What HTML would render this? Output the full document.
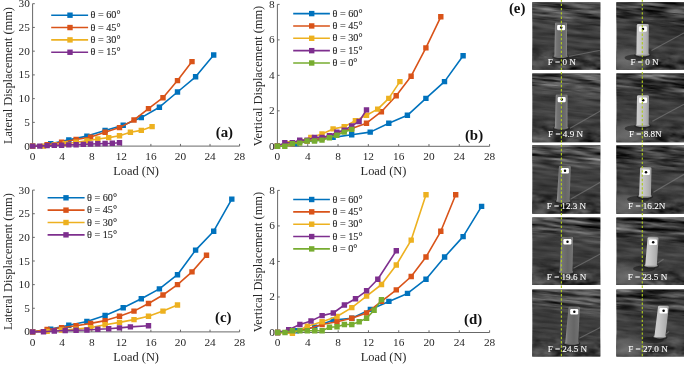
<!DOCTYPE html>
<html><head><meta charset="utf-8"><title>Figure</title>
<style>
html,body{margin:0;padding:0;background:#fff}
svg{display:block;will-change:transform}
text{font-family:"Liberation Serif",serif;fill:#262626}
.t{font-size:11.3px}
.l{font-size:12.4px}
.g{font-size:10.2px;stroke:#262626;stroke-width:0.12px}
.b{font-size:14.9px;font-weight:bold;fill:#111}
.f{font-size:9.1px;fill:#fff;stroke:#fff;stroke-width:0.1px}
</style></head><body>
<svg width="685" height="365" viewBox="0 0 685 365">
<defs>
<linearGradient id="bg0" x1="0" y1="0" x2="0" y2="1">
<stop offset="0" stop-color="#404040"/><stop offset="0.15" stop-color="#464646"/><stop offset="0.3" stop-color="#404040"/><stop offset="0.55" stop-color="#3e3e3e"/><stop offset="0.78" stop-color="#3a3a3a"/><stop offset="1" stop-color="#353535"/>
</linearGradient>
<linearGradient id="bg1" x1="0" y1="0" x2="0" y2="1">
<stop offset="0" stop-color="#2c2c2c"/><stop offset="0.14" stop-color="#363636"/><stop offset="0.26" stop-color="#262626"/><stop offset="0.4" stop-color="#3c3c3c"/><stop offset="0.6" stop-color="#404040"/><stop offset="0.8" stop-color="#3a3a3a"/><stop offset="1" stop-color="#343434"/>
</linearGradient>
<radialGradient id="blotch"><stop offset="0" stop-color="#747474" stop-opacity="0.9"/><stop offset="0.55" stop-color="#686868" stop-opacity="0.7"/><stop offset="1" stop-color="#555" stop-opacity="0"/></radialGradient>
<linearGradient id="tg0" x1="0" y1="0" x2="1" y2="0">
<stop offset="0" stop-color="#949494"/><stop offset="0.18" stop-color="#747474"/><stop offset="0.6" stop-color="#666"/><stop offset="0.88" stop-color="#707070"/><stop offset="1" stop-color="#868686"/>
</linearGradient>
<linearGradient id="tg1" x1="0" y1="0" x2="1" y2="0">
<stop offset="0" stop-color="#cfcfcf"/><stop offset="0.35" stop-color="#c6c6c6"/><stop offset="0.75" stop-color="#b2b2b2"/><stop offset="1" stop-color="#9c9c9c"/>
</linearGradient>
<filter id="tex0" x="0" y="0" width="100%" height="100%" color-interpolation-filters="sRGB">
<feTurbulence type="fractalNoise" baseFrequency="0.03 0.24" numOctaves="3" seed="3" result="n"/>
<feColorMatrix in="n" type="matrix" values="0.5 0.5 0 0 0  0.5 0.5 0 0 0  0.5 0.5 0 0 0  0 0 0 0 1" result="g"/>
<feComposite in="SourceGraphic" in2="g" operator="arithmetic" k1="0" k2="1" k3="0.34" k4="-0.17"/>
</filter>
<filter id="tex1" x="0" y="0" width="100%" height="100%" color-interpolation-filters="sRGB">
<feTurbulence type="fractalNoise" baseFrequency="0.035 0.2" numOctaves="3" seed="11" result="n"/>
<feColorMatrix in="n" type="matrix" values="0.5 0.5 0 0 0  0.5 0.5 0 0 0  0.5 0.5 0 0 0  0 0 0 0 1" result="g"/>
<feComposite in="SourceGraphic" in2="g" operator="arithmetic" k1="0" k2="1" k3="0.36" k4="-0.18"/>
</filter>
<filter id="texS" x="0" y="0" width="100%" height="100%" color-interpolation-filters="sRGB">
<feTurbulence type="fractalNoise" baseFrequency="0.028 0.3" numOctaves="3" seed="5" result="n"/>
<feColorMatrix in="n" type="matrix" values="0.65 0.65 0 0 -0.35  0.65 0.65 0 0 -0.35  0.65 0.65 0 0 -0.35  0 0 0 0 1" result="g"/>
<feComposite in="g" in2="SourceAlpha" operator="in"/>
</filter>
<filter id="texS1" x="0" y="0" width="100%" height="100%" color-interpolation-filters="sRGB">
<feTurbulence type="fractalNoise" baseFrequency="0.03 0.26" numOctaves="3" seed="9" result="n"/>
<feColorMatrix in="n" type="matrix" values="0.65 0.65 0 0 -0.42  0.65 0.65 0 0 -0.42  0.65 0.65 0 0 -0.42  0 0 0 0 1" result="g"/>
<feComposite in="g" in2="SourceAlpha" operator="in"/>
</filter>
<filter id="texB" x="0" y="0" width="100%" height="100%" color-interpolation-filters="sRGB">
<feTurbulence type="fractalNoise" baseFrequency="0.07 0.16" numOctaves="3" seed="2" result="n"/>
<feColorMatrix in="n" type="matrix" values="0.5 0.5 0 0 -0.28  0.5 0.5 0 0 -0.28  0.5 0.5 0 0 -0.28  0 0 0 0 1" result="g"/>
<feComposite in="g" in2="SourceAlpha" operator="in"/>
</filter>
<linearGradient id="fadeT" x1="0" y1="0" x2="0" y2="1"><stop offset="0" stop-color="#fff"/><stop offset="0.55" stop-color="#fff" stop-opacity="0.9"/><stop offset="1" stop-color="#fff" stop-opacity="0"/></linearGradient>
<linearGradient id="fadeB" x1="0" y1="0" x2="0" y2="1"><stop offset="0" stop-color="#fff" stop-opacity="0"/><stop offset="0.6" stop-color="#fff" stop-opacity="0.75"/><stop offset="1" stop-color="#fff" stop-opacity="0.9"/></linearGradient>
<mask id="mT" maskContentUnits="objectBoundingBox"><rect width="1" height="1" fill="url(#fadeT)"/></mask>
<mask id="mB" maskContentUnits="objectBoundingBox"><rect width="1" height="1" fill="url(#fadeB)"/></mask>
</defs>
<rect width="685" height="365" fill="#fff"/>
<path d="M32.6 3.7V146.1H239.6" fill="none" stroke="#686868" stroke-width="1"/>
<path d="M32.60 146.1v-2.2" stroke="#686868" stroke-width="1"/>
<text x="32.60" y="159.9" text-anchor="middle" class="t">0</text>
<path d="M62.17 146.1v-2.2" stroke="#686868" stroke-width="1"/>
<text x="62.17" y="159.9" text-anchor="middle" class="t">4</text>
<path d="M91.74 146.1v-2.2" stroke="#686868" stroke-width="1"/>
<text x="91.74" y="159.9" text-anchor="middle" class="t">8</text>
<path d="M121.31 146.1v-2.2" stroke="#686868" stroke-width="1"/>
<text x="121.31" y="159.9" text-anchor="middle" class="t">12</text>
<path d="M150.89 146.1v-2.2" stroke="#686868" stroke-width="1"/>
<text x="150.89" y="159.9" text-anchor="middle" class="t">16</text>
<path d="M180.46 146.1v-2.2" stroke="#686868" stroke-width="1"/>
<text x="180.46" y="159.9" text-anchor="middle" class="t">20</text>
<path d="M210.03 146.1v-2.2" stroke="#686868" stroke-width="1"/>
<text x="210.03" y="159.9" text-anchor="middle" class="t">24</text>
<path d="M239.60 146.1v-2.2" stroke="#686868" stroke-width="1"/>
<text x="239.60" y="159.9" text-anchor="middle" class="t">28</text>
<path d="M32.6 146.10h2.2" stroke="#686868" stroke-width="1"/>
<text x="29.8" y="149.60" text-anchor="end" class="t">0</text>
<path d="M32.6 122.37h2.2" stroke="#686868" stroke-width="1"/>
<text x="29.8" y="125.87" text-anchor="end" class="t">5</text>
<path d="M32.6 98.63h2.2" stroke="#686868" stroke-width="1"/>
<text x="29.8" y="102.13" text-anchor="end" class="t">10</text>
<path d="M32.6 74.90h2.2" stroke="#686868" stroke-width="1"/>
<text x="29.8" y="78.40" text-anchor="end" class="t">15</text>
<path d="M32.6 51.17h2.2" stroke="#686868" stroke-width="1"/>
<text x="29.8" y="54.67" text-anchor="end" class="t">20</text>
<path d="M32.6 27.43h2.2" stroke="#686868" stroke-width="1"/>
<text x="29.8" y="30.93" text-anchor="end" class="t">25</text>
<path d="M32.6 3.70h2.2" stroke="#686868" stroke-width="1"/>
<text x="29.8" y="7.20" text-anchor="end" class="t">30</text>
<text x="136.10" y="174.6" text-anchor="middle" class="l">Load (N)</text>
<text transform="translate(11.6 75.50) rotate(-90)" text-anchor="middle" class="l">Lateral Displacement (mm)</text>
<path d="M32.6 146.1L50.7 143.7L68.8 139.9L86.9 136.1L105.1 130.4L123.2 125.2L141.3 117.6L159.4 107.2L177.5 92.0L195.6 76.8L213.7 55.0" fill="none" stroke="#0072BD" stroke-width="1.6" stroke-linejoin="round"/>
<path d="M29.9 143.4h5.4v5.4h-5.4zM48.0 141.0h5.4v5.4h-5.4zM66.1 137.2h5.4v5.4h-5.4zM84.2 133.4h5.4v5.4h-5.4zM102.4 127.7h5.4v5.4h-5.4zM120.5 122.5h5.4v5.4h-5.4zM138.6 114.9h5.4v5.4h-5.4zM156.7 104.5h5.4v5.4h-5.4zM174.8 89.3h5.4v5.4h-5.4zM192.9 74.1h5.4v5.4h-5.4zM211.0 52.3h5.4v5.4h-5.4z" fill="#0072BD"/>
<path d="M32.6 146.1L47.1 144.7L61.6 142.3L76.1 139.5L90.6 137.1L105.1 132.3L119.5 127.6L134.0 120.0L148.5 108.6L163.0 97.7L177.5 80.6L192.0 61.6" fill="none" stroke="#D95319" stroke-width="1.6" stroke-linejoin="round"/>
<path d="M29.9 143.4h5.4v5.4h-5.4zM44.4 142.0h5.4v5.4h-5.4zM58.9 139.6h5.4v5.4h-5.4zM73.4 136.8h5.4v5.4h-5.4zM87.9 134.4h5.4v5.4h-5.4zM102.4 129.6h5.4v5.4h-5.4zM116.8 124.9h5.4v5.4h-5.4zM131.3 117.3h5.4v5.4h-5.4zM145.8 105.9h5.4v5.4h-5.4zM160.3 95.0h5.4v5.4h-5.4zM174.8 77.9h5.4v5.4h-5.4zM189.3 58.9h5.4v5.4h-5.4z" fill="#D95319"/>
<path d="M32.6 146.1L43.5 146.1L54.3 144.7L65.2 143.7L76.1 142.3L86.9 140.9L97.8 139.0L108.7 137.6L119.5 135.7L130.4 132.3L141.3 130.4L152.1 126.6" fill="none" stroke="#EDB120" stroke-width="1.6" stroke-linejoin="round"/>
<path d="M29.9 143.4h5.4v5.4h-5.4zM40.8 143.4h5.4v5.4h-5.4zM51.6 142.0h5.4v5.4h-5.4zM62.5 141.0h5.4v5.4h-5.4zM73.4 139.6h5.4v5.4h-5.4zM84.2 138.2h5.4v5.4h-5.4zM95.1 136.3h5.4v5.4h-5.4zM106.0 134.9h5.4v5.4h-5.4zM116.8 133.0h5.4v5.4h-5.4zM127.7 129.6h5.4v5.4h-5.4zM138.6 127.7h5.4v5.4h-5.4zM149.4 123.9h5.4v5.4h-5.4z" fill="#EDB120"/>
<path d="M32.6 146.1L39.8 146.1L47.1 145.6L54.3 145.4L61.6 145.2L68.8 144.9L76.1 144.7L83.3 144.4L90.6 144.0L97.8 143.7L105.1 143.5L112.3 143.3L119.5 142.8" fill="none" stroke="#7E2F8E" stroke-width="1.6" stroke-linejoin="round"/>
<path d="M29.9 143.4h5.4v5.4h-5.4zM37.1 143.4h5.4v5.4h-5.4zM44.4 142.9h5.4v5.4h-5.4zM51.6 142.7h5.4v5.4h-5.4zM58.9 142.5h5.4v5.4h-5.4zM66.1 142.2h5.4v5.4h-5.4zM73.4 142.0h5.4v5.4h-5.4zM80.6 141.7h5.4v5.4h-5.4zM87.9 141.3h5.4v5.4h-5.4zM95.1 141.0h5.4v5.4h-5.4zM102.4 140.8h5.4v5.4h-5.4zM109.6 140.6h5.4v5.4h-5.4zM116.8 140.1h5.4v5.4h-5.4z" fill="#7E2F8E"/>
<path d="M51.2 15.20H88.1" stroke="#0072BD" stroke-width="1.6"/>
<rect x="67.3" y="12.50" width="5.4" height="5.4" fill="#0072BD"/>
<text x="90.5" y="18.30" class="g">θ = 60°</text>
<path d="M51.2 27.55H88.1" stroke="#D95319" stroke-width="1.6"/>
<rect x="67.3" y="24.85" width="5.4" height="5.4" fill="#D95319"/>
<text x="90.5" y="30.65" class="g">θ = 45°</text>
<path d="M51.2 39.90H88.1" stroke="#EDB120" stroke-width="1.6"/>
<rect x="67.3" y="37.20" width="5.4" height="5.4" fill="#EDB120"/>
<text x="90.5" y="43.00" class="g">θ = 30°</text>
<path d="M51.2 52.25H88.1" stroke="#7E2F8E" stroke-width="1.6"/>
<rect x="67.3" y="49.55" width="5.4" height="5.4" fill="#7E2F8E"/>
<text x="90.5" y="55.35" class="g">θ = 15°</text>
<text x="215.7" y="136.5" class="b">(a)</text>
<path d="M277.4 4.4V146.3H489.6" fill="none" stroke="#686868" stroke-width="1"/>
<path d="M277.40 146.3v-2.2" stroke="#686868" stroke-width="1"/>
<text x="277.40" y="159.8" text-anchor="middle" class="t">0</text>
<path d="M307.71 146.3v-2.2" stroke="#686868" stroke-width="1"/>
<text x="307.71" y="159.8" text-anchor="middle" class="t">4</text>
<path d="M338.03 146.3v-2.2" stroke="#686868" stroke-width="1"/>
<text x="338.03" y="159.8" text-anchor="middle" class="t">8</text>
<path d="M368.34 146.3v-2.2" stroke="#686868" stroke-width="1"/>
<text x="368.34" y="159.8" text-anchor="middle" class="t">12</text>
<path d="M398.66 146.3v-2.2" stroke="#686868" stroke-width="1"/>
<text x="398.66" y="159.8" text-anchor="middle" class="t">16</text>
<path d="M428.97 146.3v-2.2" stroke="#686868" stroke-width="1"/>
<text x="428.97" y="159.8" text-anchor="middle" class="t">20</text>
<path d="M459.29 146.3v-2.2" stroke="#686868" stroke-width="1"/>
<text x="459.29" y="159.8" text-anchor="middle" class="t">24</text>
<path d="M489.60 146.3v-2.2" stroke="#686868" stroke-width="1"/>
<text x="489.60" y="159.8" text-anchor="middle" class="t">28</text>
<path d="M277.4 146.30h2.2" stroke="#686868" stroke-width="1"/>
<text x="274.59999999999997" y="149.80" text-anchor="end" class="t">0</text>
<path d="M277.4 110.83h2.2" stroke="#686868" stroke-width="1"/>
<text x="274.59999999999997" y="114.33" text-anchor="end" class="t">2</text>
<path d="M277.4 75.35h2.2" stroke="#686868" stroke-width="1"/>
<text x="274.59999999999997" y="78.85" text-anchor="end" class="t">4</text>
<path d="M277.4 39.88h2.2" stroke="#686868" stroke-width="1"/>
<text x="274.59999999999997" y="43.38" text-anchor="end" class="t">6</text>
<path d="M277.4 4.40h2.2" stroke="#686868" stroke-width="1"/>
<text x="274.59999999999997" y="7.90" text-anchor="end" class="t">8</text>
<text x="383.50" y="174.6" text-anchor="middle" class="l">Load (N)</text>
<text transform="translate(261.6 75.95) rotate(-90)" text-anchor="middle" class="l">Vertical Displacement (mm)</text>
<path d="M277.4 146.3L296.0 143.6L314.5 140.1L333.1 137.4L351.7 134.8L370.2 132.1L388.8 123.2L407.4 115.3L425.9 98.4L444.5 81.6L463.1 55.8" fill="none" stroke="#0072BD" stroke-width="1.6" stroke-linejoin="round"/>
<path d="M274.7 143.6h5.4v5.4h-5.4zM293.3 140.9h5.4v5.4h-5.4zM311.8 137.4h5.4v5.4h-5.4zM330.4 134.7h5.4v5.4h-5.4zM349.0 132.1h5.4v5.4h-5.4zM367.5 129.4h5.4v5.4h-5.4zM386.1 120.5h5.4v5.4h-5.4zM404.7 112.6h5.4v5.4h-5.4zM423.2 95.7h5.4v5.4h-5.4zM441.8 78.9h5.4v5.4h-5.4zM460.4 53.1h5.4v5.4h-5.4z" fill="#0072BD"/>
<path d="M277.4 146.3L292.3 143.6L307.1 141.0L322.0 138.3L336.8 133.0L351.7 128.6L366.5 123.2L381.4 111.7L396.2 95.7L411.1 76.2L425.9 47.9L440.8 16.8" fill="none" stroke="#D95319" stroke-width="1.6" stroke-linejoin="round"/>
<path d="M274.7 143.6h5.4v5.4h-5.4zM289.6 140.9h5.4v5.4h-5.4zM304.4 138.3h5.4v5.4h-5.4zM319.3 135.6h5.4v5.4h-5.4zM334.1 130.3h5.4v5.4h-5.4zM349.0 125.9h5.4v5.4h-5.4zM363.8 120.5h5.4v5.4h-5.4zM378.7 109.0h5.4v5.4h-5.4zM393.5 93.0h5.4v5.4h-5.4zM408.4 73.5h5.4v5.4h-5.4zM423.2 45.2h5.4v5.4h-5.4zM438.1 14.1h5.4v5.4h-5.4z" fill="#D95319"/>
<path d="M277.4 146.3L288.5 143.6L299.7 141.0L310.8 137.4L322.0 133.9L333.1 128.9L344.2 126.8L355.4 120.6L366.5 115.3L377.7 109.1L388.8 98.4L399.9 81.6" fill="none" stroke="#EDB120" stroke-width="1.6" stroke-linejoin="round"/>
<path d="M274.7 143.6h5.4v5.4h-5.4zM285.8 140.9h5.4v5.4h-5.4zM297.0 138.3h5.4v5.4h-5.4zM308.1 134.7h5.4v5.4h-5.4zM319.3 131.2h5.4v5.4h-5.4zM330.4 126.2h5.4v5.4h-5.4zM341.5 124.1h5.4v5.4h-5.4zM352.7 117.9h5.4v5.4h-5.4zM363.8 112.6h5.4v5.4h-5.4zM375.0 106.4h5.4v5.4h-5.4zM386.1 95.7h5.4v5.4h-5.4zM397.2 78.9h5.4v5.4h-5.4z" fill="#EDB120"/>
<path d="M277.4 146.3L284.8 142.8L292.3 142.8L299.7 140.1L307.1 140.1L314.5 137.4L322.0 137.4L329.4 135.7L336.8 132.1L344.2 130.3L351.7 125.9L359.1 121.5L366.5 109.9" fill="none" stroke="#7E2F8E" stroke-width="1.6" stroke-linejoin="round"/>
<path d="M274.7 143.6h5.4v5.4h-5.4zM282.1 140.1h5.4v5.4h-5.4zM289.6 140.1h5.4v5.4h-5.4zM297.0 137.4h5.4v5.4h-5.4zM304.4 137.4h5.4v5.4h-5.4zM311.8 134.7h5.4v5.4h-5.4zM319.3 134.7h5.4v5.4h-5.4zM326.7 133.0h5.4v5.4h-5.4zM334.1 129.4h5.4v5.4h-5.4zM341.5 127.6h5.4v5.4h-5.4zM349.0 123.2h5.4v5.4h-5.4zM356.4 118.8h5.4v5.4h-5.4zM363.8 107.2h5.4v5.4h-5.4z" fill="#7E2F8E"/>
<path d="M277.4 146.3L284.8 146.3L292.3 143.6L299.7 143.1L307.1 141.0L314.5 141.0L322.0 140.1L329.4 137.8L336.8 135.3L344.2 132.1L351.7 129.4" fill="none" stroke="#77AC30" stroke-width="1.6" stroke-linejoin="round"/>
<path d="M274.7 143.6h5.4v5.4h-5.4zM282.1 143.6h5.4v5.4h-5.4zM289.6 140.9h5.4v5.4h-5.4zM297.0 140.4h5.4v5.4h-5.4zM304.4 138.3h5.4v5.4h-5.4zM311.8 138.3h5.4v5.4h-5.4zM319.3 137.4h5.4v5.4h-5.4zM326.7 135.1h5.4v5.4h-5.4zM334.1 132.6h5.4v5.4h-5.4zM341.5 129.4h5.4v5.4h-5.4zM349.0 126.7h5.4v5.4h-5.4z" fill="#77AC30"/>
<path d="M293.2 13.60H329.9" stroke="#0072BD" stroke-width="1.6"/>
<rect x="309.0" y="10.90" width="5.4" height="5.4" fill="#0072BD"/>
<text x="332.5" y="16.70" class="g">θ = 60°</text>
<path d="M293.2 25.95H329.9" stroke="#D95319" stroke-width="1.6"/>
<rect x="309.0" y="23.25" width="5.4" height="5.4" fill="#D95319"/>
<text x="332.5" y="29.05" class="g">θ = 45°</text>
<path d="M293.2 38.30H329.9" stroke="#EDB120" stroke-width="1.6"/>
<rect x="309.0" y="35.60" width="5.4" height="5.4" fill="#EDB120"/>
<text x="332.5" y="41.40" class="g">θ = 30°</text>
<path d="M293.2 50.65H329.9" stroke="#7E2F8E" stroke-width="1.6"/>
<rect x="309.0" y="47.95" width="5.4" height="5.4" fill="#7E2F8E"/>
<text x="332.5" y="53.75" class="g">θ = 15°</text>
<path d="M293.2 63.00H329.9" stroke="#77AC30" stroke-width="1.6"/>
<rect x="309.0" y="60.30" width="5.4" height="5.4" fill="#77AC30"/>
<text x="332.5" y="66.10" class="g">θ = 0°</text>
<text x="464.9" y="140" class="b">(b)</text>
<path d="M32.6 190.1V331.9H239.6" fill="none" stroke="#686868" stroke-width="1"/>
<path d="M32.60 331.9v-2.2" stroke="#686868" stroke-width="1"/>
<text x="32.60" y="345.6" text-anchor="middle" class="t">0</text>
<path d="M62.17 331.9v-2.2" stroke="#686868" stroke-width="1"/>
<text x="62.17" y="345.6" text-anchor="middle" class="t">4</text>
<path d="M91.74 331.9v-2.2" stroke="#686868" stroke-width="1"/>
<text x="91.74" y="345.6" text-anchor="middle" class="t">8</text>
<path d="M121.31 331.9v-2.2" stroke="#686868" stroke-width="1"/>
<text x="121.31" y="345.6" text-anchor="middle" class="t">12</text>
<path d="M150.89 331.9v-2.2" stroke="#686868" stroke-width="1"/>
<text x="150.89" y="345.6" text-anchor="middle" class="t">16</text>
<path d="M180.46 331.9v-2.2" stroke="#686868" stroke-width="1"/>
<text x="180.46" y="345.6" text-anchor="middle" class="t">20</text>
<path d="M210.03 331.9v-2.2" stroke="#686868" stroke-width="1"/>
<text x="210.03" y="345.6" text-anchor="middle" class="t">24</text>
<path d="M239.60 331.9v-2.2" stroke="#686868" stroke-width="1"/>
<text x="239.60" y="345.6" text-anchor="middle" class="t">28</text>
<path d="M32.6 331.90h2.2" stroke="#686868" stroke-width="1"/>
<text x="29.8" y="335.40" text-anchor="end" class="t">0</text>
<path d="M32.6 308.27h2.2" stroke="#686868" stroke-width="1"/>
<text x="29.8" y="311.77" text-anchor="end" class="t">5</text>
<path d="M32.6 284.63h2.2" stroke="#686868" stroke-width="1"/>
<text x="29.8" y="288.13" text-anchor="end" class="t">10</text>
<path d="M32.6 261.00h2.2" stroke="#686868" stroke-width="1"/>
<text x="29.8" y="264.50" text-anchor="end" class="t">15</text>
<path d="M32.6 237.37h2.2" stroke="#686868" stroke-width="1"/>
<text x="29.8" y="240.87" text-anchor="end" class="t">20</text>
<path d="M32.6 213.73h2.2" stroke="#686868" stroke-width="1"/>
<text x="29.8" y="217.23" text-anchor="end" class="t">25</text>
<path d="M32.6 190.10h2.2" stroke="#686868" stroke-width="1"/>
<text x="29.8" y="193.60" text-anchor="end" class="t">30</text>
<text x="136.10" y="361.2" text-anchor="middle" class="l">Load (N)</text>
<text transform="translate(11.6 261.60) rotate(-90)" text-anchor="middle" class="l">Lateral Displacement (mm)</text>
<path d="M32.6 331.9L50.7 329.1L68.8 325.3L86.9 321.5L105.1 315.4L123.2 307.8L141.3 298.8L159.4 288.9L177.5 274.7L195.6 250.1L213.7 231.2L231.8 199.1" fill="none" stroke="#0072BD" stroke-width="1.6" stroke-linejoin="round"/>
<path d="M29.9 329.2h5.4v5.4h-5.4zM48.0 326.4h5.4v5.4h-5.4zM66.1 322.6h5.4v5.4h-5.4zM84.2 318.8h5.4v5.4h-5.4zM102.4 312.7h5.4v5.4h-5.4zM120.5 305.1h5.4v5.4h-5.4zM138.6 296.1h5.4v5.4h-5.4zM156.7 286.2h5.4v5.4h-5.4zM174.8 272.0h5.4v5.4h-5.4zM192.9 247.4h5.4v5.4h-5.4zM211.0 228.5h5.4v5.4h-5.4zM229.1 196.4h5.4v5.4h-5.4z" fill="#0072BD"/>
<path d="M32.6 331.9L47.1 329.5L61.6 327.6L76.1 325.8L90.6 323.4L105.1 320.6L119.5 316.3L134.0 311.1L148.5 303.5L163.0 295.0L177.5 284.6L192.0 271.9L206.5 255.3" fill="none" stroke="#D95319" stroke-width="1.6" stroke-linejoin="round"/>
<path d="M29.9 329.2h5.4v5.4h-5.4zM44.4 326.8h5.4v5.4h-5.4zM58.9 324.9h5.4v5.4h-5.4zM73.4 323.1h5.4v5.4h-5.4zM87.9 320.7h5.4v5.4h-5.4zM102.4 317.9h5.4v5.4h-5.4zM116.8 313.6h5.4v5.4h-5.4zM131.3 308.4h5.4v5.4h-5.4zM145.8 300.8h5.4v5.4h-5.4zM160.3 292.3h5.4v5.4h-5.4zM174.8 281.9h5.4v5.4h-5.4zM189.3 269.2h5.4v5.4h-5.4zM203.8 252.6h5.4v5.4h-5.4z" fill="#D95319"/>
<path d="M32.6 331.9L47.1 331.4L61.6 330.0L76.1 329.1L90.6 327.6L105.1 324.8L119.5 322.4L134.0 319.6L148.5 316.3L163.0 311.1L177.5 305.0" fill="none" stroke="#EDB120" stroke-width="1.6" stroke-linejoin="round"/>
<path d="M29.9 329.2h5.4v5.4h-5.4zM44.4 328.7h5.4v5.4h-5.4zM58.9 327.3h5.4v5.4h-5.4zM73.4 326.4h5.4v5.4h-5.4zM87.9 324.9h5.4v5.4h-5.4zM102.4 322.1h5.4v5.4h-5.4zM116.8 319.7h5.4v5.4h-5.4zM131.3 316.9h5.4v5.4h-5.4zM145.8 313.6h5.4v5.4h-5.4zM160.3 308.4h5.4v5.4h-5.4zM174.8 302.3h5.4v5.4h-5.4z" fill="#EDB120"/>
<path d="M32.6 331.9L43.5 331.7L54.3 331.0L65.2 330.5L76.1 330.2L86.9 330.0L97.8 329.3L108.7 328.8L119.5 327.9L130.4 326.9L148.5 325.8" fill="none" stroke="#7E2F8E" stroke-width="1.6" stroke-linejoin="round"/>
<path d="M29.9 329.2h5.4v5.4h-5.4zM40.8 329.0h5.4v5.4h-5.4zM51.6 328.3h5.4v5.4h-5.4zM62.5 327.8h5.4v5.4h-5.4zM73.4 327.5h5.4v5.4h-5.4zM84.2 327.3h5.4v5.4h-5.4zM95.1 326.6h5.4v5.4h-5.4zM106.0 326.1h5.4v5.4h-5.4zM116.8 325.2h5.4v5.4h-5.4zM127.7 324.2h5.4v5.4h-5.4zM145.8 323.1h5.4v5.4h-5.4z" fill="#7E2F8E"/>
<path d="M47.6 197.80H84.6" stroke="#0072BD" stroke-width="1.6"/>
<rect x="63.3" y="195.10" width="5.4" height="5.4" fill="#0072BD"/>
<text x="87.0" y="200.90" class="g">θ = 60°</text>
<path d="M47.6 210.15H84.6" stroke="#D95319" stroke-width="1.6"/>
<rect x="63.3" y="207.45" width="5.4" height="5.4" fill="#D95319"/>
<text x="87.0" y="213.25" class="g">θ = 45°</text>
<path d="M47.6 222.50H84.6" stroke="#EDB120" stroke-width="1.6"/>
<rect x="63.3" y="219.80" width="5.4" height="5.4" fill="#EDB120"/>
<text x="87.0" y="225.60" class="g">θ = 30°</text>
<path d="M47.6 234.85H84.6" stroke="#7E2F8E" stroke-width="1.6"/>
<rect x="63.3" y="232.15" width="5.4" height="5.4" fill="#7E2F8E"/>
<text x="87.0" y="237.95" class="g">θ = 15°</text>
<text x="215" y="322.3" class="b">(c)</text>
<path d="M277.6 190.4V332.5H489.6" fill="none" stroke="#686868" stroke-width="1"/>
<path d="M277.60 332.5v-2.2" stroke="#686868" stroke-width="1"/>
<text x="277.60" y="346.0" text-anchor="middle" class="t">0</text>
<path d="M307.89 332.5v-2.2" stroke="#686868" stroke-width="1"/>
<text x="307.89" y="346.0" text-anchor="middle" class="t">4</text>
<path d="M338.17 332.5v-2.2" stroke="#686868" stroke-width="1"/>
<text x="338.17" y="346.0" text-anchor="middle" class="t">8</text>
<path d="M368.46 332.5v-2.2" stroke="#686868" stroke-width="1"/>
<text x="368.46" y="346.0" text-anchor="middle" class="t">12</text>
<path d="M398.74 332.5v-2.2" stroke="#686868" stroke-width="1"/>
<text x="398.74" y="346.0" text-anchor="middle" class="t">16</text>
<path d="M429.03 332.5v-2.2" stroke="#686868" stroke-width="1"/>
<text x="429.03" y="346.0" text-anchor="middle" class="t">20</text>
<path d="M459.31 332.5v-2.2" stroke="#686868" stroke-width="1"/>
<text x="459.31" y="346.0" text-anchor="middle" class="t">24</text>
<path d="M489.60 332.5v-2.2" stroke="#686868" stroke-width="1"/>
<text x="489.60" y="346.0" text-anchor="middle" class="t">28</text>
<path d="M277.6 332.50h2.2" stroke="#686868" stroke-width="1"/>
<text x="274.8" y="336.00" text-anchor="end" class="t">0</text>
<path d="M277.6 296.98h2.2" stroke="#686868" stroke-width="1"/>
<text x="274.8" y="300.48" text-anchor="end" class="t">2</text>
<path d="M277.6 261.45h2.2" stroke="#686868" stroke-width="1"/>
<text x="274.8" y="264.95" text-anchor="end" class="t">4</text>
<path d="M277.6 225.93h2.2" stroke="#686868" stroke-width="1"/>
<text x="274.8" y="229.43" text-anchor="end" class="t">6</text>
<path d="M277.6 190.40h2.2" stroke="#686868" stroke-width="1"/>
<text x="274.8" y="193.90" text-anchor="end" class="t">8</text>
<text x="383.60" y="361.2" text-anchor="middle" class="l">Load (N)</text>
<text transform="translate(261.6 262.05) rotate(-90)" text-anchor="middle" class="l">Vertical Displacement (mm)</text>
<path d="M277.6 332.5L296.2 330.7L314.7 327.2L333.2 320.1L351.8 318.3L370.4 309.4L388.9 301.4L407.5 293.4L426.0 279.2L444.6 257.0L463.1 236.6L481.6 206.4" fill="none" stroke="#0072BD" stroke-width="1.6" stroke-linejoin="round"/>
<path d="M274.9 329.8h5.4v5.4h-5.4zM293.5 328.0h5.4v5.4h-5.4zM312.0 324.5h5.4v5.4h-5.4zM330.6 317.4h5.4v5.4h-5.4zM349.1 315.6h5.4v5.4h-5.4zM367.7 306.7h5.4v5.4h-5.4zM386.2 298.7h5.4v5.4h-5.4zM404.8 290.7h5.4v5.4h-5.4zM423.3 276.5h5.4v5.4h-5.4zM441.9 254.3h5.4v5.4h-5.4zM460.4 233.9h5.4v5.4h-5.4zM478.9 203.7h5.4v5.4h-5.4z" fill="#0072BD"/>
<path d="M277.6 332.5L292.4 331.6L307.3 328.9L322.1 324.5L337.0 321.8L351.8 318.3L366.6 313.0L381.5 301.4L396.3 289.9L411.2 276.5L426.0 257.0L440.8 231.3L455.7 194.8" fill="none" stroke="#D95319" stroke-width="1.6" stroke-linejoin="round"/>
<path d="M274.9 329.8h5.4v5.4h-5.4zM289.7 328.9h5.4v5.4h-5.4zM304.6 326.2h5.4v5.4h-5.4zM319.4 321.8h5.4v5.4h-5.4zM334.3 319.1h5.4v5.4h-5.4zM349.1 315.6h5.4v5.4h-5.4zM363.9 310.3h5.4v5.4h-5.4zM378.8 298.7h5.4v5.4h-5.4zM393.6 287.2h5.4v5.4h-5.4zM408.5 273.8h5.4v5.4h-5.4zM423.3 254.3h5.4v5.4h-5.4zM438.1 228.6h5.4v5.4h-5.4zM453.0 192.1h5.4v5.4h-5.4z" fill="#D95319"/>
<path d="M277.6 332.5L292.4 333.4L307.3 326.3L322.1 321.8L337.0 316.5L351.8 307.6L366.6 296.1L381.5 284.5L396.3 265.0L411.2 240.1L426.0 194.8" fill="none" stroke="#EDB120" stroke-width="1.6" stroke-linejoin="round"/>
<path d="M274.9 329.8h5.4v5.4h-5.4zM289.7 330.7h5.4v5.4h-5.4zM304.6 323.6h5.4v5.4h-5.4zM319.4 319.1h5.4v5.4h-5.4zM334.3 313.8h5.4v5.4h-5.4zM349.1 304.9h5.4v5.4h-5.4zM363.9 293.4h5.4v5.4h-5.4zM378.8 281.8h5.4v5.4h-5.4zM393.6 262.3h5.4v5.4h-5.4zM408.5 237.4h5.4v5.4h-5.4zM423.3 192.1h5.4v5.4h-5.4z" fill="#EDB120"/>
<path d="M277.6 332.5L288.7 329.8L299.9 324.5L311.0 321.0L322.1 315.6L333.2 313.0L344.4 305.0L355.5 298.8L366.6 290.8L377.8 279.2L396.3 250.8" fill="none" stroke="#7E2F8E" stroke-width="1.6" stroke-linejoin="round"/>
<path d="M274.9 329.8h5.4v5.4h-5.4zM286.0 327.1h5.4v5.4h-5.4zM297.2 321.8h5.4v5.4h-5.4zM308.3 318.3h5.4v5.4h-5.4zM319.4 312.9h5.4v5.4h-5.4zM330.6 310.3h5.4v5.4h-5.4zM341.7 302.3h5.4v5.4h-5.4zM352.8 296.1h5.4v5.4h-5.4zM363.9 288.1h5.4v5.4h-5.4zM375.1 276.5h5.4v5.4h-5.4zM393.6 248.1h5.4v5.4h-5.4z" fill="#7E2F8E"/>
<path d="M277.6 332.5L285.0 332.5L292.4 330.7L299.9 330.7L307.3 330.7L314.7 330.7L322.1 330.7L329.5 327.2L337.0 326.8L344.4 324.5L351.8 324.5L359.2 321.8L366.6 318.3L374.1 310.3L381.5 299.6" fill="none" stroke="#77AC30" stroke-width="1.6" stroke-linejoin="round"/>
<path d="M274.9 329.8h5.4v5.4h-5.4zM282.3 329.8h5.4v5.4h-5.4zM289.7 328.0h5.4v5.4h-5.4zM297.2 328.0h5.4v5.4h-5.4zM304.6 328.0h5.4v5.4h-5.4zM312.0 328.0h5.4v5.4h-5.4zM319.4 328.0h5.4v5.4h-5.4zM326.8 324.5h5.4v5.4h-5.4zM334.3 324.1h5.4v5.4h-5.4zM341.7 321.8h5.4v5.4h-5.4zM349.1 321.8h5.4v5.4h-5.4zM356.5 319.1h5.4v5.4h-5.4zM363.9 315.6h5.4v5.4h-5.4zM371.4 307.6h5.4v5.4h-5.4zM378.8 296.9h5.4v5.4h-5.4z" fill="#77AC30"/>
<path d="M293.2 199.50H329.9" stroke="#0072BD" stroke-width="1.6"/>
<rect x="309.0" y="196.80" width="5.4" height="5.4" fill="#0072BD"/>
<text x="332.5" y="202.60" class="g">θ = 60°</text>
<path d="M293.2 211.85H329.9" stroke="#D95319" stroke-width="1.6"/>
<rect x="309.0" y="209.15" width="5.4" height="5.4" fill="#D95319"/>
<text x="332.5" y="214.95" class="g">θ = 45°</text>
<path d="M293.2 224.20H329.9" stroke="#EDB120" stroke-width="1.6"/>
<rect x="309.0" y="221.50" width="5.4" height="5.4" fill="#EDB120"/>
<text x="332.5" y="227.30" class="g">θ = 30°</text>
<path d="M293.2 236.55H329.9" stroke="#7E2F8E" stroke-width="1.6"/>
<rect x="309.0" y="233.85" width="5.4" height="5.4" fill="#7E2F8E"/>
<text x="332.5" y="239.65" class="g">θ = 15°</text>
<path d="M293.2 248.90H329.9" stroke="#77AC30" stroke-width="1.6"/>
<rect x="309.0" y="246.20" width="5.4" height="5.4" fill="#77AC30"/>
<text x="332.5" y="252.00" class="g">θ = 0°</text>
<text x="464" y="324.4" class="b">(d)</text>
<text x="508.9" y="13.1" class="b">(e)</text>
<clipPath id="c00"><rect x="532.3" y="2.2" width="68.0" height="67.6"/></clipPath>
<g clip-path="url(#c00)">
<rect x="526.3" y="-1.7999999999999998" width="80.0" height="75.6" fill="url(#bg0)" filter="url(#tex0)" transform="rotate(5 566.3 36.0)"/>
<g mask="url(#mT)" transform="rotate(5 566.3 36.0)"><rect x="526.3" y="-1.7999999999999998" width="80.0" height="31.0" filter="url(#texS)"/></g>
<g mask="url(#mB)" transform="rotate(5 566.3 36.0)"><rect x="526.3" y="45.5" width="80.0" height="28.3" filter="url(#texB)"/></g>
<ellipse cx="536.3" cy="66.8" rx="22" ry="10" fill="url(#blotch)" opacity="0.55"/>
<path d="M568.5 56.5L600.3 50.3" stroke="#808080" stroke-width="1.1" opacity="0.6"/>
<ellipse cx="560.7" cy="57.0" rx="8.5" ry="2.6" fill="#1e1e1e" opacity="0.7"/>
<ellipse cx="560.7" cy="56.2" rx="7.3" ry="1.8" fill="#6c6c6c"/>
<path d="M555.0 23.8Q555.0 22.6 556.5 22.6L565.5 22.6Q567.0 22.6 567.0 23.8L567.0 56.5L554.4 56.5Z" fill="url(#tg0)"/>
<rect x="557.1" y="24.9" width="8" height="5.4" rx="1.2" fill="#fff"/>
<circle cx="561.2" cy="27.6" r="1.25" fill="#0a0a0a"/>
<text x="561.8" y="65.0" text-anchor="middle" class="f">F = 0 N</text>
</g>
<clipPath id="c01"><rect x="532.3" y="73.5" width="68.0" height="68.7"/></clipPath>
<g clip-path="url(#c01)">
<rect x="526.3" y="69.5" width="80.0" height="76.7" fill="url(#bg0)" filter="url(#tex0)" transform="rotate(5 566.3 107.8)"/>
<g mask="url(#mT)" transform="rotate(5 566.3 107.8)"><rect x="526.3" y="69.5" width="80.0" height="31.5" filter="url(#texS)"/></g>
<g mask="url(#mB)" transform="rotate(5 566.3 107.8)"><rect x="526.3" y="117.5" width="80.0" height="28.7" filter="url(#texB)"/></g>
<ellipse cx="536.3" cy="139.2" rx="22" ry="10" fill="url(#blotch)" opacity="0.55"/>
<path d="M570.0 128.3L600.3 111.0" stroke="#808080" stroke-width="1.1" opacity="0.6"/>
<ellipse cx="561.2" cy="128.5" rx="8.5" ry="2.6" fill="#1e1e1e" opacity="0.7"/>
<ellipse cx="561.2" cy="127.7" rx="7.3" ry="1.8" fill="#6c6c6c"/>
<path d="M555.7 95.8Q555.7 94.6 557.2 94.6L566.0 94.6Q567.5 94.6 567.5 95.8L567.5 128.0L554.9 128.0Z" fill="url(#tg0)"/>
<rect x="557.7" y="96.9" width="8" height="5.4" rx="1.2" fill="#fff"/>
<circle cx="561.8" cy="99.6" r="1.25" fill="#0a0a0a"/>
<text x="565.6" y="136.9" text-anchor="middle" class="f">F = 4.9 N</text>
</g>
<clipPath id="c02"><rect x="532.3" y="145.2" width="68.0" height="68.6"/></clipPath>
<g clip-path="url(#c02)">
<rect x="526.3" y="141.2" width="80.0" height="76.6" fill="url(#bg0)" filter="url(#tex0)" transform="rotate(5 566.3 179.5)"/>
<g mask="url(#mT)" transform="rotate(5 566.3 179.5)"><rect x="526.3" y="141.2" width="80.0" height="31.4" filter="url(#texS)"/></g>
<g mask="url(#mB)" transform="rotate(5 566.3 179.5)"><rect x="526.3" y="189.1" width="80.0" height="28.7" filter="url(#texB)"/></g>
<ellipse cx="536.3" cy="210.79999999999998" rx="22" ry="10" fill="url(#blotch)" opacity="0.55"/>
<path d="M570.4 199.2L600.3 182.3" stroke="#808080" stroke-width="1.1" opacity="0.6"/>
<ellipse cx="563.2" cy="201.7" rx="8.6" ry="2.6" fill="#1e1e1e" opacity="0.7"/>
<ellipse cx="563.2" cy="200.89999999999998" rx="7.4" ry="1.8" fill="#6c6c6c"/>
<path d="M558.9 166.9Q558.9 165.7 560.4 165.7L569.2 165.7Q570.7 165.7 570.7 166.9L569.6 201.2L556.8 201.2Z" fill="url(#tg0)"/>
<rect x="560.9" y="168.0" width="8" height="5.4" rx="1.2" fill="#fff"/>
<circle cx="565.0" cy="170.7" r="1.25" fill="#0a0a0a"/>
<text x="566.4" y="208.9" text-anchor="middle" class="f">F = 12.3 N</text>
</g>
<clipPath id="c03"><rect x="532.3" y="217.5" width="68.0" height="67.5"/></clipPath>
<g clip-path="url(#c03)">
<rect x="526.3" y="213.5" width="80.0" height="75.5" fill="url(#bg0)" filter="url(#tex0)" transform="rotate(5 566.3 251.2)"/>
<g mask="url(#mT)" transform="rotate(5 566.3 251.2)"><rect x="526.3" y="213.5" width="80.0" height="31.0" filter="url(#texS)"/></g>
<g mask="url(#mB)" transform="rotate(5 566.3 251.2)"><rect x="526.3" y="260.7" width="80.0" height="28.3" filter="url(#texB)"/></g>
<ellipse cx="536.3" cy="282.0" rx="22" ry="10" fill="url(#blotch)" opacity="0.55"/>
<path d="M573.4 268.2L600.3 254.0" stroke="#808080" stroke-width="1.1" opacity="0.6"/>
<ellipse cx="566.0" cy="272.7" rx="8.6" ry="2.6" fill="#1e1e1e" opacity="0.7"/>
<ellipse cx="566.0" cy="271.9" rx="7.4" ry="1.8" fill="#6c6c6c"/>
<path d="M561.5 237.9Q561.5 236.7 563.0 236.7L571.6 236.7Q573.1 236.7 573.1 237.9L572.4 272.2L559.6 272.2Z" fill="url(#tg0)"/>
<rect x="563.4" y="239.0" width="8" height="5.4" rx="1.2" fill="#fff"/>
<circle cx="567.5" cy="241.7" r="1.25" fill="#0a0a0a"/>
<text x="566.6" y="279.9" text-anchor="middle" class="f">F = 19.6 N</text>
</g>
<clipPath id="c04"><rect x="532.3" y="289.5" width="68.0" height="66.9"/></clipPath>
<g clip-path="url(#c04)">
<rect x="526.3" y="285.5" width="80.0" height="74.9" fill="url(#bg0)" filter="url(#tex0)" transform="rotate(5 566.3 322.9)"/>
<g mask="url(#mT)" transform="rotate(5 566.3 322.9)"><rect x="526.3" y="285.5" width="80.0" height="30.8" filter="url(#texS)"/></g>
<g mask="url(#mB)" transform="rotate(5 566.3 322.9)"><rect x="526.3" y="332.3" width="80.0" height="28.1" filter="url(#texB)"/></g>
<ellipse cx="536.3" cy="353.4" rx="22" ry="10" fill="url(#blotch)" opacity="0.55"/>
<path d="M579.3 338.3L600.3 327.4" stroke="#808080" stroke-width="1.1" opacity="0.6"/>
<ellipse cx="571.7" cy="343.7" rx="8.7" ry="2.6" fill="#1e1e1e" opacity="0.7"/>
<ellipse cx="571.7" cy="342.9" rx="7.5" ry="1.8" fill="#6c6c6c"/>
<path d="M568.4 307.9Q568.4 306.7 569.9 306.7L578.3 306.7Q579.8 306.7 579.8 307.9L578.2 343.2L565.2 343.2Z" fill="url(#tg0)"/>
<rect x="570.2" y="309.0" width="8" height="5.4" rx="1.2" fill="#fff"/>
<circle cx="574.3" cy="311.7" r="1.25" fill="#0a0a0a"/>
<text x="567.4" y="351.8" text-anchor="middle" class="f">F = 24.5 N</text>
</g>
<clipPath id="c10"><rect x="616.4" y="2.2" width="67.6" height="67.6"/></clipPath>
<g clip-path="url(#c10)">
<rect x="610.4" y="-1.7999999999999998" width="79.6" height="75.6" fill="url(#bg1)" filter="url(#tex1)" transform="rotate(5 650.2 36.0)"/>
<g mask="url(#mT)" transform="rotate(5 650.2 36.0)"><rect x="610.4" y="-1.7999999999999998" width="79.6" height="35.1" filter="url(#texS1)"/></g>
<g mask="url(#mB)" transform="rotate(5 650.2 36.0)"><rect x="610.4" y="45.5" width="79.6" height="28.3" filter="url(#texB)"/></g>
<ellipse cx="627.4" cy="60.8" rx="27" ry="15" fill="url(#blotch)"/>
<ellipse cx="635.5" cy="57.8" rx="11" ry="3.2" fill="#141414" opacity="0.55"/>
<path d="M651.5 50.5L684 33.0" stroke="#808080" stroke-width="1.1" opacity="0.6"/>
<ellipse cx="642.5" cy="55.3" rx="8.3" ry="2.6" fill="#1e1e1e" opacity="0.7"/>
<ellipse cx="642.5" cy="54.5" rx="7.1" ry="1.8" fill="#8c8c8c"/>
<path d="M636.8 25.2Q636.8 24.0 638.3 24.0L647.3 24.0Q648.8 24.0 648.8 25.2L648.6 54.8L636.4 54.8Z" fill="url(#tg1)"/>
<rect x="638.9" y="26.3" width="8" height="5.4" rx="1.2" fill="#fff"/>
<circle cx="643.0" cy="29.0" r="1.25" fill="#0a0a0a"/>
<text x="644.6" y="65.0" text-anchor="middle" class="f">F = 0 N</text>
</g>
<clipPath id="c11"><rect x="616.4" y="73.5" width="67.6" height="68.7"/></clipPath>
<g clip-path="url(#c11)">
<rect x="610.4" y="69.5" width="79.6" height="76.7" fill="url(#bg1)" filter="url(#tex1)" transform="rotate(5 650.2 107.8)"/>
<g mask="url(#mT)" transform="rotate(5 650.2 107.8)"><rect x="610.4" y="69.5" width="79.6" height="35.6" filter="url(#texS1)"/></g>
<g mask="url(#mB)" transform="rotate(5 650.2 107.8)"><rect x="610.4" y="117.5" width="79.6" height="28.7" filter="url(#texB)"/></g>
<ellipse cx="627.4" cy="133.2" rx="27" ry="15" fill="url(#blotch)"/>
<ellipse cx="635.6" cy="128.5" rx="11" ry="3.2" fill="#141414" opacity="0.55"/>
<path d="M652.4 121.3L684 104.2" stroke="#808080" stroke-width="1.1" opacity="0.6"/>
<ellipse cx="642.6" cy="126.0" rx="8.3" ry="2.6" fill="#1e1e1e" opacity="0.7"/>
<ellipse cx="642.6" cy="125.2" rx="7.1" ry="1.8" fill="#8c8c8c"/>
<path d="M637.0 96.5Q637.0 95.3 638.5 95.3L647.5 95.3Q649.0 95.3 649.0 96.5L648.7 125.5L636.5 125.5Z" fill="url(#tg1)"/>
<rect x="639.1" y="97.6" width="8" height="5.4" rx="1.2" fill="#fff"/>
<circle cx="643.2" cy="100.3" r="1.25" fill="#0a0a0a"/>
<text x="645.3" y="136.9" text-anchor="middle" class="f">F = 8.8N</text>
</g>
<clipPath id="c12"><rect x="616.4" y="145.2" width="67.6" height="68.6"/></clipPath>
<g clip-path="url(#c12)">
<rect x="610.4" y="141.2" width="79.6" height="76.6" fill="url(#bg1)" filter="url(#tex1)" transform="rotate(5 650.2 179.5)"/>
<g mask="url(#mT)" transform="rotate(5 650.2 179.5)"><rect x="610.4" y="141.2" width="79.6" height="35.6" filter="url(#texS1)"/></g>
<g mask="url(#mB)" transform="rotate(5 650.2 179.5)"><rect x="610.4" y="189.1" width="79.6" height="28.7" filter="url(#texB)"/></g>
<ellipse cx="627.4" cy="204.79999999999998" rx="27" ry="15" fill="url(#blotch)"/>
<ellipse cx="638.0" cy="199.3" rx="11" ry="3.2" fill="#141414" opacity="0.55"/>
<path d="M653.4 192.3L684 174.3" stroke="#808080" stroke-width="1.1" opacity="0.6"/>
<ellipse cx="645.0" cy="196.8" rx="8.1" ry="2.6" fill="#1e1e1e" opacity="0.7"/>
<ellipse cx="645.0" cy="196.0" rx="6.9" ry="1.8" fill="#8c8c8c"/>
<path d="M640.1 168.5Q640.1 167.3 641.6 167.3L650.0 167.3Q651.5 167.3 651.5 168.5L650.9 196.3L639.1 196.3Z" fill="url(#tg1)"/>
<rect x="641.9" y="169.6" width="8" height="5.4" rx="1.2" fill="#fff"/>
<circle cx="646.0" cy="172.3" r="1.25" fill="#0a0a0a"/>
<text x="646.7" y="208.9" text-anchor="middle" class="f">F = 16.2N</text>
</g>
<clipPath id="c13"><rect x="616.4" y="217.5" width="67.6" height="67.5"/></clipPath>
<g clip-path="url(#c13)">
<rect x="610.4" y="213.5" width="79.6" height="75.5" fill="url(#bg1)" filter="url(#tex1)" transform="rotate(5 650.2 251.2)"/>
<g mask="url(#mT)" transform="rotate(5 650.2 251.2)"><rect x="610.4" y="213.5" width="79.6" height="35.0" filter="url(#texS1)"/></g>
<g mask="url(#mB)" transform="rotate(5 650.2 251.2)"><rect x="610.4" y="260.7" width="79.6" height="28.3" filter="url(#texB)"/></g>
<ellipse cx="627.4" cy="276.0" rx="27" ry="15" fill="url(#blotch)"/>
<ellipse cx="644.0" cy="268.7" rx="11" ry="3.2" fill="#141414" opacity="0.55"/>
<path d="M657.4 263.3L663.5 259.3" stroke="#808080" stroke-width="1.1" opacity="0.6"/>
<ellipse cx="651.0" cy="266.2" rx="8.0" ry="2.6" fill="#1e1e1e" opacity="0.7"/>
<ellipse cx="651.0" cy="265.4" rx="6.8" ry="1.8" fill="#8c8c8c"/>
<path d="M647.5 238.5Q647.5 237.3 649.0 237.3L657.0 237.3Q658.5 237.3 658.5 238.5L656.8 265.7L645.2 265.7Z" fill="url(#tg1)"/>
<rect x="649.1" y="239.6" width="8" height="5.4" rx="1.2" fill="#fff"/>
<circle cx="653.2" cy="242.3" r="1.25" fill="#0a0a0a"/>
<text x="647.5" y="279.9" text-anchor="middle" class="f">F = 23.5 N</text>
</g>
<clipPath id="c14"><rect x="616.4" y="289.5" width="67.6" height="66.9"/></clipPath>
<g clip-path="url(#c14)">
<rect x="610.4" y="285.5" width="79.6" height="74.9" fill="url(#bg1)" filter="url(#tex1)" transform="rotate(5 650.2 322.9)"/>
<g mask="url(#mT)" transform="rotate(5 650.2 322.9)"><rect x="610.4" y="285.5" width="79.6" height="34.8" filter="url(#texS1)"/></g>
<g mask="url(#mB)" transform="rotate(5 650.2 322.9)"><rect x="610.4" y="332.3" width="79.6" height="28.1" filter="url(#texB)"/></g>
<ellipse cx="627.4" cy="347.4" rx="27" ry="15" fill="url(#blotch)"/>
<ellipse cx="652.8" cy="339.9" rx="11" ry="3.2" fill="#141414" opacity="0.55"/>
<path d="M666 334L669 331.5" stroke="#808080" stroke-width="1.1" opacity="0.6"/>
<ellipse cx="659.8" cy="337.4" rx="7.7" ry="2.6" fill="#1e1e1e" opacity="0.7"/>
<ellipse cx="659.8" cy="336.59999999999997" rx="6.5" ry="1.8" fill="#8c8c8c"/>
<path d="M658.0 306.9Q658.0 305.7 659.5 305.7L667.3 305.7Q668.8 305.7 668.8 306.9L665.3 336.9L654.3 336.9Z" fill="url(#tg1)"/>
<rect x="659.5" y="308.0" width="8" height="5.4" rx="1.2" fill="#fff"/>
<circle cx="663.6" cy="310.7" r="1.25" fill="#0a0a0a"/>
<text x="648.0" y="351.8" text-anchor="middle" class="f">F = 27.0 N</text>
</g>
<path d="M561.4 0V356.4" stroke="#aec820" stroke-width="1.15" stroke-dasharray="2.4 1.87" stroke-dashoffset="0.6"/>
<path d="M642.3 0V356.4" stroke="#aec820" stroke-width="1.15" stroke-dasharray="2.4 1.87" stroke-dashoffset="0.6"/>
</svg>
</body></html>
